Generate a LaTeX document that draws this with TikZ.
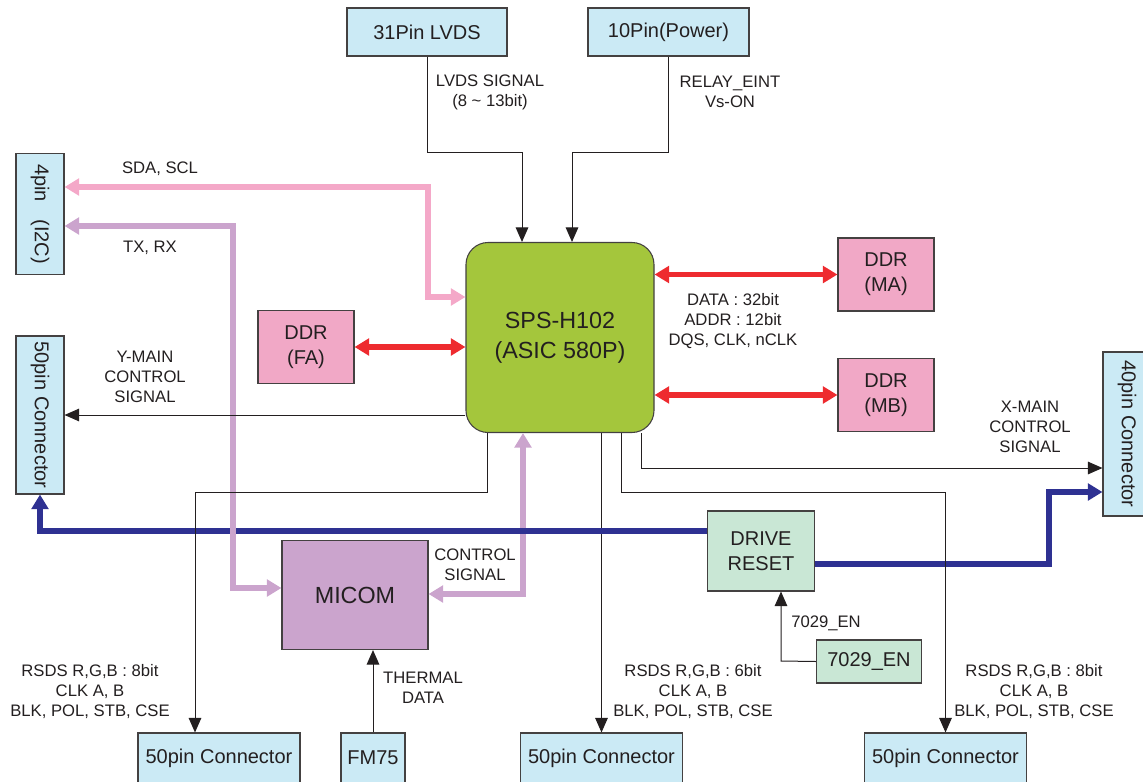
\documentclass[tikz,border=0pt]{standalone}
\usepackage{fontspec}
\setmainfont{Liberation Sans}
\usetikzlibrary{arrows.meta,positioning,calc}
\definecolor{pdpInk}{HTML}{231F20}
\definecolor{pdpCyan}{HTML}{CBEAF5}
\definecolor{pdpRose}{HTML}{F1A8C6}
\definecolor{pdpLime}{HTML}{A4C63C}
\definecolor{pdpLilac}{HTML}{CBA4CD}
\definecolor{pdpMint}{HTML}{C9E7D5}
\definecolor{pdpPink}{HTML}{F4A8C8}
\definecolor{pdpRed}{HTML}{EE2B2F}
\definecolor{pdpNavy}{HTML}{2E3192}
\tikzset{
    >={Triangle[length=11pt,width=9.5pt]},
    bushead/.tip={Triangle[length=11pt,width=12.5pt]},
    base/.style={draw=pdpInk!85, line width=0.8pt, align=center, text=pdpInk, inner sep=0pt},
    conbox/.style={base, fill=pdpCyan, font=\fontsize{15}{18}\selectfont},
    membox/.style={base, fill=pdpRose, minimum width=72pt, minimum height=54.75pt, font=\fontsize{15}{19}\selectfont},
    chip/.style={base, fill=pdpLime, rounded corners=16.5pt, font=\fontsize{17.5}{22.5}\selectfont},
    mcubox/.style={base, fill=pdpLilac, font=\fontsize{17.5}{21}\selectfont},
    rstbox/.style={base, fill=pdpMint, font=\fontsize{15}{19}\selectfont},
    lbl/.style={align=center, text=pdpInk, inner sep=0pt, font=\fontsize{12.5}{15}\selectfont},
    sig/.style={->, line width=0.75pt, draw=pdpInk},
    bus/.style={line width=3.8pt},
    i2cbus/.style={bus, draw=pdpPink, bushead-bushead},
    uartbus/.style={bus, draw=pdpLilac, bushead-bushead},
    membus/.style={bus, draw=pdpRed, bushead-bushead},
    rstbus/.style={bus, line width=4.2pt, draw=pdpNavy, -bushead}
}
\begin{document}
\begin{tikzpicture}[x=0.75pt, y=-0.75pt]
\useasboundingbox (0,0) rectangle (1143,782);
% boxes
\node[conbox, minimum width=120pt, minimum height=36pt] (lvds) at (427,32) {31Pin LVDS};
\node[conbox, minimum width=120.75pt, minimum height=36pt] (power) at (668.5,32) {10Pin(Power)};
\node[conbox, rotate=-90, minimum width=90.75pt, minimum height=36pt] (i2c) at (40,214) {4pin\hspace{9pt} (I2C)};
\node[conbox, rotate=-90, minimum width=118.5pt, minimum height=36pt] (ymain) at (40,415) {50pin Connector};
\node[conbox, rotate=-90, minimum width=123pt, minimum height=36pt] (xmain) at (1127,434) {40pin Connector};
\node[chip, minimum width=141pt, minimum height=142.5pt] (sps) at (560,337.5) {SPS-H102\\(ASIC 580P)};
\node[membox] (ddrfa) at (306,347) {DDR\\(FA)};
\node[membox] (ddrma) at (886,274.5) {DDR\\(MA)};
\node[membox] (ddrmb) at (886,395) {DDR\\(MB)};
\node[mcubox, minimum width=109.5pt, minimum height=81.75pt] (micom) at (355,595) {MICOM};
\node[rstbox, minimum width=80.25pt, minimum height=60pt] (reset) at (761,551) {DRIVE\\RESET};
\node[rstbox, minimum width=78.75pt, minimum height=32.25pt] (en) at (869,661.5) {7029\_EN};
\node[conbox, minimum width=121.5pt, minimum height=37.5pt] (conl) at (219,758) {50pin Connector};
\node[conbox, minimum width=48pt, minimum height=37.5pt] (fm75) at (373,758) {FM75};
\node[conbox, minimum width=121.5pt, minimum height=37.5pt] (conm) at (601.5,758) {50pin Connector};
\node[conbox, minimum width=121.5pt, minimum height=37.5pt] (conr) at (945.5,758) {50pin Connector};
% bends
\coordinate (lvdsk) at (522,152);
\coordinate (pwrk) at (572,152);
\coordinate (sdak) at (428,187);
\coordinate (sdak2) at (428,297);
\coordinate (txk) at (233,226);
\coordinate (txk2) at (233,588);
\coordinate (ctlk) at (523,594);
\coordinate (xmk) at (641,468);
\coordinate (lk) at (487,492);
\coordinate (lk2) at (195,492);
\coordinate (rk) at (621,492);
\coordinate (enk) at (781,661);
\coordinate (blk) at (40,531);
\coordinate (brk) at (1049,564);
\coordinate (brk2) at (1049,492);
% under the reset bus
\draw[uartbus] (ctlk -| micom.east) -- (ctlk) -- (ctlk |- sps.south);
\draw[sig] (conm.north |- sps.south) -- (conm.north);
% buses
\draw[rstbus] (blk -| reset.west) -- (blk) -- (ymain.east);
\draw[rstbus] (brk -| reset.east) -- (brk) -- (brk2) -- (brk2 -| xmain.south);
\draw[i2cbus] (sdak -| i2c.north) -- (sdak) -- (sdak2) -- (sdak2 -| sps.west);
\draw[uartbus] (txk -| i2c.north) -- (txk) -- (txk2) -- (txk2 -| micom.west);
\draw[membus] (ddrfa.east) -- (ddrfa.east -| sps.west);
\draw[membus] (ddrma.west -| sps.east) -- (ddrma.west);
\draw[membus] (ddrmb.west -| sps.east) -- (ddrmb.west);
% signals
\draw[sig] (lvds.south) |- (lvdsk) -- (lvdsk |- sps.north);
\draw[sig] (power.south) |- (pwrk) -- (pwrk |- sps.north);
\draw[sig] (ymain.north -| sps.west) -- (ymain.north);
\draw[sig] (xmk |- sps.south) -- (xmk) -- (xmk -| xmain.south);
\draw[sig] (lk |- sps.south) -- (lk) -- (lk2) -- (lk2 |- conl.north);
\draw[sig] (rk |- sps.south) -- (rk) -| (conr.north);
\draw[sig] (fm75.north) -- (fm75.north |- micom.south);
\draw[sig] (en.west) -- (enk) -- (enk |- reset.south);
% labels
\node[lbl] (lvdstxt) at (490,92) {LVDS SIGNAL\\(8 \textasciitilde{} 13bit)};
\node[lbl] (pwrtxt) at (730,92) {RELAY\_EINT\\Vs-ON};
\node[lbl] (sdatxt) at (160,169) {SDA, SCL};
\node[lbl] (txtxt) at (150,248) {TX, RX};
\node[lbl] (ymtxt) at (145,377) {Y-MAIN\\CONTROL\\SIGNAL};
\node[lbl] (memtxt) at (733,321) {DATA : 32bit\\ADDR : 12bit\\DQS, CLK, nCLK};
\node[lbl] (xmtxt) at (1030,427) {X-MAIN\\CONTROL\\SIGNAL};
\node[lbl] (ctltxt) at (475,565) {CONTROL\\SIGNAL};
\node[lbl] (thtxt) at (423,688) {THERMAL\\DATA};
\node[lbl] (entxt) at (826,623) {7029\_EN};
\node[lbl] (rsdsl) at (90,692) {RSDS R,G,B : 8bit\\CLK A, B\\BLK, POL, STB, CSE};
\node[lbl] (rsdsm) at (693,692) {RSDS R,G,B : 6bit\\CLK A, B\\BLK, POL, STB, CSE};
\node[lbl] (rsdsr) at (1034,692) {RSDS R,G,B : 8bit\\CLK A, B\\BLK, POL, STB, CSE};
\end{tikzpicture}
\end{document}
